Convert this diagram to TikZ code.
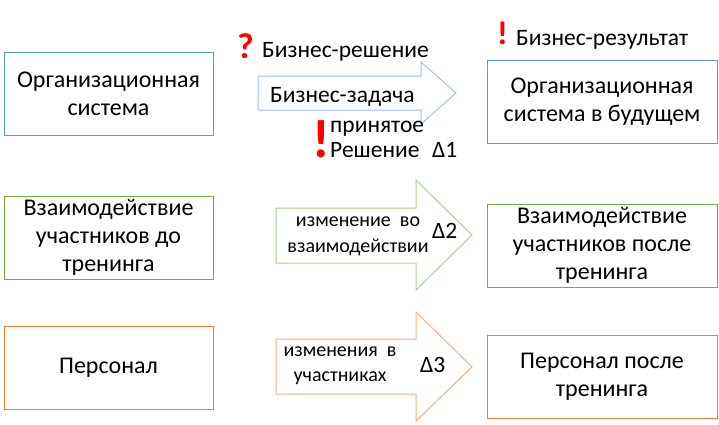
\documentclass[tikz,border=0pt]{standalone}
\usepackage{fontspec}
\setmainfont{Carlito}
\usepackage{
	tikz,
	xcolor
}
\usetikzlibrary{positioning}

\definecolor{boxblue}{RGB}{91,155,213}
\definecolor{boxgreen}{RGB}{112,173,71}
\definecolor{boxorange}{RGB}{237,125,49}
\definecolor{arrblue}{RGB}{157,195,230}
\definecolor{arrgreen}{RGB}{169,209,142}
\definecolor{arrorange}{RGB}{244,177,131}

\tikzset{
	box/.style={draw, line width=1pt, minimum width=209pt, minimum height=83pt, align=center,
		font=\fontsize{24}{28}\selectfont},
	widebox/.style={box, minimum width=230pt},
	txt/.style={anchor=base west, inner sep=0pt, font=\fontsize{23.5}{26}\selectfont},
	redmark/.style={anchor=base west, inner sep=0pt, red}
}

\begin{document}
\begin{tikzpicture}[x=1pt,y=-1pt]
		\useasboundingbox (0,0) rectangle (719,424);
		% left column
		\node[box, draw=boxblue] (org) at (108.5,94) {Организационная\\система};
		\node[box, draw=boxgreen] (inter) at (108.5,237.5) {Взаимодействие\\участников до\\тренинга};
		\node[box, draw=boxorange] (staff) at (108.5,368) {Персонал};
		% right column
		\node[widebox, draw=boxblue] (orgfut) at (602,102) {Организационная\\система в будущем};
		\node[widebox, draw=boxgreen] (interpost) at (602,245.5) {Взаимодействие\\участников после\\тренинга};
		\node[widebox, draw=boxorange] (staffpost) at (602,376.5) {Персонал после\\тренинга};
		% arrows
		\draw[arrblue, line width=1pt] (258,76) -- (421,76) -- (421,62) -- (456,93) -- (421,124) -- (421,110) -- (258,110) -- cycle;
		\draw[arrgreen, line width=1pt] (276,208) -- (416,208) -- (416,180) -- (472,235) -- (416,290) -- (416,263) -- (276,263) -- cycle;
		\draw[arrorange, line width=1pt] (276,339) -- (416,339) -- (416,312) -- (472,367) -- (416,421) -- (416,394) -- (276,394) -- cycle;
		% first row labels
		\node[redmark, font=\fontsize{36}{36}\bfseries\selectfont] (ask) at (237,58) {?};
		\node[txt] (bizdec) at (262,57) {Бизнес-решение};
		\node[txt] (biztask) at (270,102) {Бизнес-задача};
		\node[redmark, font=\fontsize{54}{54}\bfseries\selectfont] (done) at (312,157) {!};
		\node[txt] (taken) at (330,132) {принятое};
		\node[txt] (decision) at (330,157) {Решение};
		\node[txt] (d1) at (432,157) {∆1};
		\node[redmark, font=\fontsize{33}{33}\bfseries\selectfont] (res) at (497,44) {!};
		\node[txt] (bizres) at (516,45) {Бизнес-результат};
		% change labels
		\node[align=center, inner sep=0pt, font=\fontsize{20}{26}\selectfont] (chint) at (358,236) {изменение\ \ во\\взаимодействии};
		\node[txt] (d2) at (432,238) {∆2};
		\node[align=center, inner sep=0pt, font=\fontsize{20}{25}\selectfont] (chstaff) at (340,366) {изменения\ \ в\\участниках};
		\node[txt] (d3) at (420,372) {∆3};
	\end{tikzpicture}
\end{document}
